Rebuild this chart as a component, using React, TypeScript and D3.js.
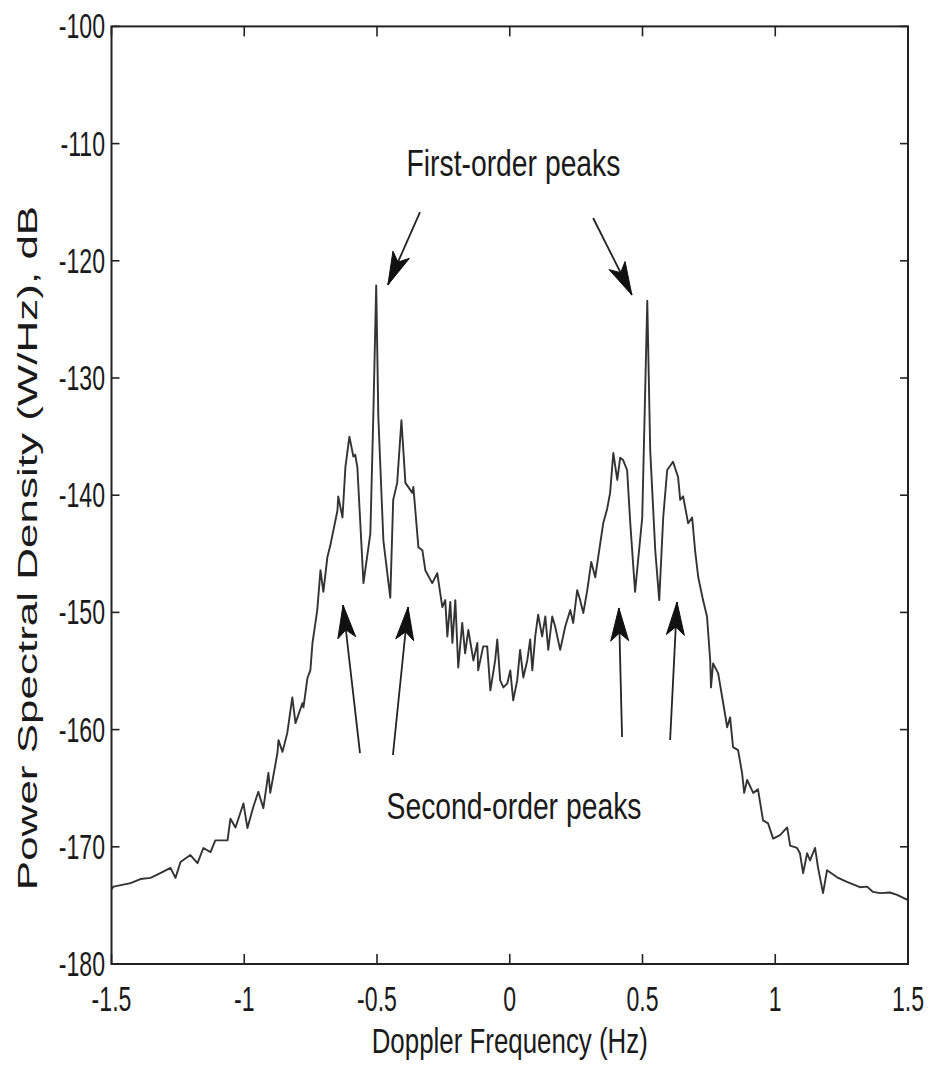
import React from "react";
import * as d3 from "d3";

// ---- Data ----
const freqHz: number[] = [
  -1.5, -1.492, -1.428, -1.391, -1.353, -1.316, -1.278, -1.259, -1.24, -1.203, -1.176, -1.154, -1.127, -1.109,
  -1.063, -1.052, -1.033, -1.003, -0.988, -0.966, -0.947, -0.928, -0.909, -0.902, -0.875, -0.871, -0.856,
  -0.838, -0.819, -0.807, -0.781, -0.777, -0.762, -0.751, -0.743, -0.725, -0.713, -0.702, -0.687, -0.676,
  -0.649, -0.646, -0.63, -0.619, -0.604, -0.589, -0.582, -0.574, -0.551, -0.525, -0.514, -0.503, -0.495,
  -0.476, -0.45, -0.439, -0.424, -0.408, -0.393, -0.367, -0.363, -0.344, -0.329, -0.318, -0.292, -0.273,
  -0.254, -0.243, -0.235, -0.224, -0.216, -0.205, -0.194, -0.179, -0.168, -0.156, -0.137, -0.122, -0.119,
  -0.1, -0.085, -0.073, -0.055, -0.047, -0.036, -0.024, -0.009, 0.002, 0.013, 0.028, 0.039, 0.051, 0.066,
  0.077, 0.085, 0.096, 0.107, 0.122, 0.134, 0.145, 0.16, 0.171, 0.19, 0.209, 0.228, 0.239, 0.254, 0.265,
  0.277, 0.292, 0.307, 0.322, 0.333, 0.352, 0.367, 0.378, 0.39, 0.405, 0.416, 0.427, 0.442, 0.454, 0.472,
  0.499, 0.518, 0.529, 0.548, 0.563, 0.578, 0.593, 0.615, 0.634, 0.642, 0.653, 0.672, 0.687, 0.698, 0.71,
  0.728, 0.743, 0.755, 0.758, 0.766, 0.785, 0.804, 0.819, 0.83, 0.841, 0.86, 0.875, 0.883, 0.894, 0.917,
  0.935, 0.954, 0.973, 0.992, 1.018, 1.045, 1.056, 1.082, 1.093, 1.105, 1.12, 1.131, 1.15, 1.161, 1.18,
  1.195, 1.233, 1.27, 1.319, 1.346, 1.368, 1.395, 1.432, 1.459, 1.5,
];

const psdDb: number[] = [
  -173.6, -173.4, -173.1, -172.75, -172.65, -172.25, -171.8, -172.65, -171.3, -170.7, -171.4, -170.1, -170.45,
  -169.45, -169.45, -167.6, -168.35, -166.3, -168.4, -166.6, -165.3, -166.7, -163.7, -165.4, -162.0, -160.9,
  -161.9, -160.3, -157.25, -159.45, -157.75, -158.1, -155.6, -154.95, -152.6, -149.8, -146.4, -148.25,
  -145.3, -144.3, -141.3, -140.1, -141.9, -137.6, -135.0, -136.7, -136.55, -137.6, -147.5, -143.25, -133.3,
  -122.1, -133.3, -143.85, -148.75, -140.4, -138.95, -133.6, -138.95, -139.8, -139.3, -144.45, -144.7,
  -146.4, -147.5, -146.65, -149.55, -148.95, -152.05, -149.1, -152.6, -148.95, -154.7, -150.9, -153.5,
  -151.5, -154.1, -152.6, -154.95, -152.9, -152.9, -156.65, -154.1, -152.3, -155.8, -156.4, -156.05,
  -154.95, -157.5, -155.8, -153.2, -155.55, -154.1, -152.3, -154.95, -152.05, -150.2, -152.05, -150.35,
  -153.2, -150.35, -151.2, -153.2, -151.2, -149.8, -150.9, -148.1, -148.95, -150.05, -148.1, -145.7, -147.0,
  -145.3, -142.4, -141.15, -139.8, -136.4, -138.7, -136.8, -137.0, -137.85, -142.4, -148.25, -141.9, -123.4,
  -136.15, -144.7, -148.95, -141.9, -137.85, -137.15, -138.45, -140.4, -140.1, -142.4, -141.9, -144.7,
  -147.0, -148.95, -150.35, -154.1, -156.4, -154.35, -155.2, -157.75, -159.8, -158.95, -161.5, -161.75,
  -163.7, -165.4, -164.3, -165.4, -165.1, -167.75, -168.0, -169.3, -169.0, -168.35, -169.9, -170.1, -170.55,
  -172.25, -170.55, -171.15, -170.1, -171.75, -173.95, -172.0, -172.6, -173.0, -173.45, -173.4, -173.85,
  -173.95, -173.9, -174.1, -174.55,
];

const xTicks: number[] = [-1.5, -1, -0.5, 0, 0.5, 1, 1.5];
const xTickLabels: string[] = ["-1.5", "-1", "-0.5", "0", "0.5", "1", "1.5"];
const yTicks: number[] = [-180, -170, -160, -150, -140, -130, -120, -110, -100];
const yTickLabels: string[] = ["-180", "-170", "-160", "-150", "-140", "-130", "-120", "-110", "-100"];

const xTitle = "Doppler Frequency (Hz)";
const yTitle = "Power Spectral Density (W/Hz), dB";

// annotation texts and arrows in data coordinates [fromX, fromY, tipX, tipY]
const firstLabel = { text: "First-order peaks", x: 0.014, y: -112.8 };
const secondLabel = { text: "Second-order peaks", x: 0.016, y: -167.6 };
const firstArrows: number[][] = [
  [-0.338, -115.84, -0.459, -122.06],
  [0.314, -116.35, 0.46, -122.92],
];
const secondArrows: number[][] = [
  [-0.564, -162.0, -0.628, -149.37],
  [-0.44, -162.17, -0.383, -149.54],
  [0.423, -160.63, 0.411, -149.62],
  [0.604, -160.89, 0.63, -149.11],
];

// ---- Layout ----
const W = 930;
const H = 1066;
const plot = { left: 111.5, right: 908, top: 26.4, bottom: 964 };
const FONT = "'Liberation Sans', Arial, Helvetica, sans-serif";
const TICK_SX = 0.66;
const TICK_FS = 35;
const ANN_SX = 0.765;
const ANN_FS = 37;

function arrowHead(x1: number, y1: number, x2: number, y2: number) {
  const dx = x2 - x1;
  const dy = y2 - y1;
  const len = Math.hypot(dx, dy);
  const ux = dx / len;
  const uy = dy / len;
  const px = -uy;
  const py = ux;
  const L = 33;
  const N = 25;
  const Wd = 9;
  const bx = x2 - ux * L;
  const by = y2 - uy * L;
  const nx = x2 - ux * N;
  const ny = y2 - uy * N;
  return `M${x2},${y2} L${bx + px * Wd},${by + py * Wd} L${nx},${ny} L${bx - px * Wd},${by - py * Wd} Z`;
}

export default function App() {
  const x = d3.scaleLinear().domain([-1.5, 1.5]).range([plot.left, plot.right]);
  const y = d3.scaleLinear().domain([-180, -100]).range([plot.bottom, plot.top]);

  const pts: [number, number][] = freqHz.map((f, i) => [f, psdDb[i]]);
  const line = d3
    .line<[number, number]>()
    .x((d) => x(d[0]))
    .y((d) => y(d[1]));

  const tickLenY = 8;
  const tickLenX = 10;

  const txt = (
    key: string,
    tx: number,
    ty: number,
    s: string,
    anchor: "start" | "middle" | "end",
    size: number,
    sx: number
  ) => (
    <text
      key={key}
      transform={`translate(${tx},${ty}) scale(${sx},1)`}
      textAnchor={anchor}
      fontFamily={FONT}
      fontSize={size}
      fill="#1a1a1a"
    >
      {s}
    </text>
  );

  const allArrows = [...firstArrows, ...secondArrows];

  return (
    <svg width={W} height={H} style={{ display: "block", position: "absolute", left: 0, top: 0, background: "#fff" }}>
      <rect x={0} y={0} width={W} height={H} fill="#ffffff" />
      {/* spectrum */}
      <path d={line(pts) || ""} fill="none" stroke="#333" strokeWidth={1.9} strokeLinejoin="round" />

      {/* frame */}
      <rect
        x={plot.left}
        y={plot.top}
        width={plot.right - plot.left}
        height={plot.bottom - plot.top}
        fill="none"
        stroke="#222"
        strokeWidth={2}
      />
      {/* ticks */}
      {xTicks.map((t, i) => (
        <g key={`xt${i}`} stroke="#222" strokeWidth={1.6}>
          <line x1={x(t)} x2={x(t)} y1={plot.bottom} y2={plot.bottom - tickLenX} />
          <line x1={x(t)} x2={x(t)} y1={plot.top} y2={plot.top + tickLenX} />
        </g>
      ))}
      {yTicks.map((t, i) => (
        <g key={`yt${i}`} stroke="#222" strokeWidth={1.6}>
          <line x1={plot.left} x2={plot.left + tickLenY} y1={y(t)} y2={y(t)} />
          <line x1={plot.right} x2={plot.right - tickLenY} y1={y(t)} y2={y(t)} />
        </g>
      ))}
      {/* tick labels */}
      {xTicks.map((t, i) => txt(`xl${i}`, x(t), 1011, xTickLabels[i], "middle", TICK_FS, TICK_SX))}
      {yTicks.map((t, i) => txt(`yl${i}`, 105, y(t) + 12, yTickLabels[i], "end", TICK_FS, TICK_SX))}

      {/* axis titles */}
      {txt("xtitle", (plot.left + plot.right) / 2, 1053, xTitle, "middle", TICK_FS, 0.74)}
      <text
        transform={`translate(37,548) scale(0.62,1) rotate(-90)`}
        textAnchor="middle"
        fontFamily={FONT}
        fontSize={44}
        fill="#1a1a1a"
      >
        {yTitle}
      </text>

      {/* annotations */}
      {txt("first", x(firstLabel.x), y(firstLabel.y), firstLabel.text, "middle", ANN_FS, ANN_SX)}
      {txt("second", x(secondLabel.x), y(secondLabel.y), secondLabel.text, "middle", ANN_FS, ANN_SX)}
      {allArrows.map((a, i) => {
        const x1 = x(a[0]);
        const y1 = y(a[1]);
        const x2 = x(a[2]);
        const y2 = y(a[3]);
        return (
          <g key={`ar${i}`}>
            <line x1={x1} y1={y1} x2={x2} y2={y2} stroke="#222" strokeWidth={1.8} />
            <path d={arrowHead(x1, y1, x2, y2)} fill="#111" stroke="#111" strokeWidth={1} strokeLinejoin="miter" />
          </g>
        );
      })}
    </svg>
  );
}
